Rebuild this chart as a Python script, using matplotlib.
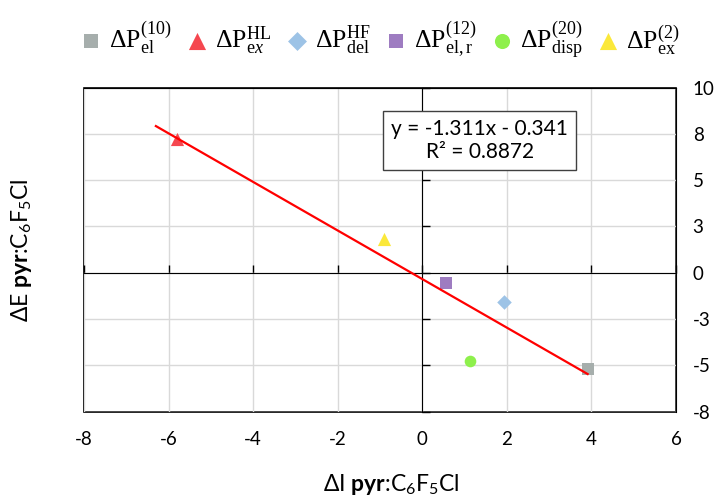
import numpy as np
import matplotlib
matplotlib.use('Agg')
import matplotlib.pyplot as plt

plt.rcParams['font.family'] = ['Lato', 'DejaVu Sans']
plt.rcParams['mathtext.fontset'] = 'custom'
plt.rcParams['mathtext.rm'] = 'Liberation Serif'
plt.rcParams['mathtext.it'] = 'Liberation Serif:italic'
plt.rcParams['mathtext.bf'] = 'Lato:bold'
plt.rcParams['mathtext.sf'] = 'Lato'

# polarisation terms vs. interaction energy change
labels = [r'$\Delta\mathrm{P}_{\mathrm{el}}^{\mathrm{(10)}}$',
          r'$\Delta\mathrm{P}_{\mathrm{e}x}^{\mathrm{HL}}$',
          r'$\Delta\mathrm{P}_{\mathrm{del}}^{\mathrm{HF}}$',
          r'$\Delta\mathrm{P}_{\mathrm{el,r}}^{\mathrm{(12)}}$',
          r'$\Delta\mathrm{P}_{\mathrm{disp}}^{\mathrm{(20)}}$',
          r'$\Delta\mathrm{P}_{\mathrm{ex}}^{\mathrm{(2)}}$']
dI = [3.91, -5.80, 1.93, 0.57, 1.12, -0.90]
dE = [-5.20, 7.20, -1.60, -0.54, -4.79, 1.80]
colors = ['#A6AEAC', '#F5474F', '#9DC3E6', '#9E7CC1', '#8EF04C', '#FBE83A']
markers = ['s', '^', 'D', 's', 'o', '^']
sizes = [65, 90, 55, 65, 70, 90]

# linear trendline
slope = -1.311
intercept = -0.341
r2 = 0.8872

x_ticks = [-8, -6, -4, -2, 0, 2, 4, 6]
x_tick_labels = ['-8', '-6', '-4', '-2', '0', '2', '4', '6']
y_ticks = [-7.5, -5, -2.5, 0, 2.5, 5, 7.5, 10]
y_tick_labels = ['-8', '-5', '-3', '0', '3', '5', '8', '10']

fig = plt.figure(figsize=(7.19, 4.98), dpi=100)
ax = fig.add_axes([84/719, 1-411.7/498, 592/719, 324.2/498])
ax.set_xlim(-8, 6)
ax.set_ylim(-7.5, 10)
ax.set_xticks(x_ticks)
ax.set_yticks(y_ticks)
ax.grid(True, color='#D9D9D9', lw=1)
ax.set_axisbelow(True)

# axes cross at the origin, frame drawn around the plot area
ax.spines['left'].set_position(('data', 0))
ax.spines['bottom'].set_position(('data', 0))
for s in ['top', 'right']:
    ax.spines[s].set_color('black')
ax.patch.set_edgecolor('black')
ax.patch.set_linewidth(1.2)
ax.tick_params(direction='in', length=6, width=1, labelleft=False, labelbottom=False)

# tick labels along the bottom and right edge
secx = ax.secondary_xaxis('bottom')
secx.set_xticks(x_ticks, x_tick_labels)
secx.tick_params(length=0, labelsize=13.5, pad=14)
secx.spines['bottom'].set_visible(False)
secy = ax.secondary_yaxis('right')
secy.set_yticks(y_ticks, y_tick_labels)
secy.tick_params(length=0, labelsize=13.5, pad=12)
secy.spines['right'].set_visible(False)

for xi, yi, c, m, s, lab in zip(dI, dE, colors, markers, sizes, labels):
    ax.scatter(xi, yi, color=c, marker=m, s=s, lw=0, label=lab, zorder=3)

x_fit = np.array([min(dI) - 0.5, max(dI)])
ax.plot(x_fit, slope * x_fit + intercept, color='#FF0000', lw=1.6, zorder=4)

eq = f'y = {slope:.3f}x - {abs(intercept):.3f}\nR² = {r2:.4f}'
ax.text(1.36, 7.14, eq, ha='center', va='center', fontsize=15, linespacing=1.15,
        bbox=dict(boxstyle='square,pad=0.38', fc='white', ec='#404040', lw=1), zorder=5)

fig.legend(loc='center', bbox_to_anchor=(379/719, 1-40/498), ncol=6, frameon=False,
           fontsize=18.5, handletextpad=0.2, columnspacing=0.5, handlelength=1.0,
           scatterpoints=1, markerscale=1.3)

fig.text(391/719, 1-484/498, r'ΔI $\mathbf{pyr}$:C$_\mathsf{6}$F$_\mathsf{5}$Cl',
         ha='center', va='center', fontsize=16.5)
fig.text(22/719, 1-250/498, r'ΔE $\mathbf{pyr}$:C$_\mathsf{6}$F$_\mathsf{5}$Cl',
         ha='center', va='center', fontsize=16.5, rotation=90)

fig.savefig('out.png', dpi=100)
